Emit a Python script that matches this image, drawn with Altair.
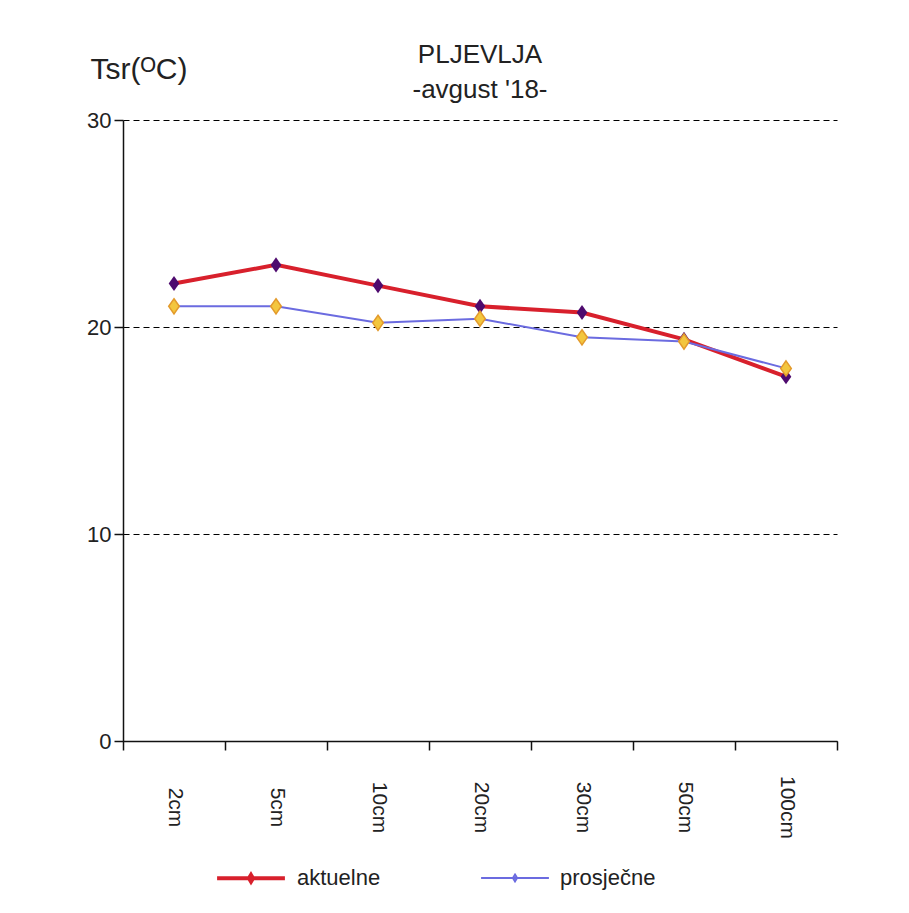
import altair as alt
import pandas as pd

depths = ["2cm", "5cm", "10cm", "20cm", "30cm", "50cm", "100cm"]
aktuelne = [22.1, 23.0, 22.0, 21.0, 20.7, 19.4, 17.6]
prosjecne = [21.0, 21.0, 20.2, 20.4, 19.5, 19.3, 18.0]
series_names = ["aktuelne", "prosječne"]
y_ticks = [0, 10, 20, 30]

rows = []
for d, v in zip(depths, aktuelne):
    rows.append({"dubina": d, "serija": series_names[0], "T": v})
for d, v in zip(depths, prosjecne):
    rows.append({"dubina": d, "serija": series_names[1], "T": v})
df = pd.DataFrame(rows)

FONT = "Liberation Sans"
diamond = "M0,-1L0.7,0L0,1L-0.7,0Z"

x_enc = alt.X(
    "dubina:N",
    sort=depths,
    scale=alt.Scale(paddingInner=0, paddingOuter=0),
    axis=alt.Axis(
        title=None,
        labelAngle=90,
        labelAlign="center",
        labelBaseline="middle",
        labelPadding=57,
        labelFontSize=21,
        labelColor="#222222",
        tickBand="extent",
        tickSize=9,
        tickColor="#111111",
        tickWidth=1.5,
        domainColor="#111111",
        domainWidth=1.5,
        grid=False,
    ),
)
y_enc = alt.Y(
    "T:Q",
    scale=alt.Scale(domain=[0, 30], nice=False),
    axis=alt.Axis(
        values=y_ticks,
        title="Tsr(ᴼC)",
        titleAngle=0,
        titleAlign="left",
        titleBaseline="alphabetic",
        titleX=-33,
        titleY=-42,
        titleFontSize=30,
        titleFontWeight="normal",
        titleColor="#222222",
        labelFontSize=22,
        labelColor="#222222",
        labelPadding=3,
        tickSize=9,
        tickColor="#111111",
        tickWidth=1.5,
        domainColor="#111111",
        domainWidth=1.5,
        grid=True,
        gridColor="#000000",
        gridDash=[6, 4],
        gridWidth=1.2,
    ),
)

base = alt.Chart(df)

lines = base.mark_line().encode(
    x=x_enc,
    y=y_enc,
    color=alt.Color(
        "serija:N",
        sort=series_names,
        scale=alt.Scale(domain=series_names, range=["#d8202c", "#6b6be0"]),
        legend=alt.Legend(
            title=None,
            orient="none",
            direction="horizontal",
            legendX=92,
            legendY=722,
            symbolType="M-1,0H1M0,-0.1L0.06,0L0,0.1L-0.06,0Z",
            symbolSize=4600,
            symbolStrokeWidth=3,
            labelFontSize=22,
            labelColor="#222222",
            labelOffset=10,
            columnPadding=96,
        ),
    ),
    strokeWidth=alt.StrokeWidth(
        "serija:N",
        scale=alt.Scale(domain=series_names, range=[4, 2]),
        legend=None,
    ),
)

pts_a = base.transform_filter(alt.datum.serija == series_names[0]).mark_point(
    shape=diamond, filled=True, color="#4e0a6e", size=230, opacity=1
).encode(x=x_enc, y=y_enc)

pts_p = base.transform_filter(alt.datum.serija == series_names[1]).mark_point(
    shape=diamond, fill="#f3c63e", stroke="#e39a2c", strokeWidth=1.5, size=230, opacity=1, filled=True
).encode(x=x_enc, y=y_enc)

chart = (
    alt.layer(lines, pts_a, pts_p)
    .properties(
        width=714,
        height=621,
        title=alt.TitleParams(
            text=["PLJEVLJA", "-avgust '18-"],
            fontSize=26,
            fontWeight="normal",
            color="#222222",
            anchor="middle",
            frame="group",
            lineHeight=35,
            offset=18,
            dy=67,
        ),
        autosize=alt.AutoSizeParams(type="none"),
        padding={"left": 115, "top": 112, "right": 60, "bottom": 150},
    )
    .configure(font=FONT)
    .configure_view(stroke=None)
    .configure_legend(labelFont=FONT)
)

chart.save("out.html", embed_options={"renderer": "svg", "actions": False})
